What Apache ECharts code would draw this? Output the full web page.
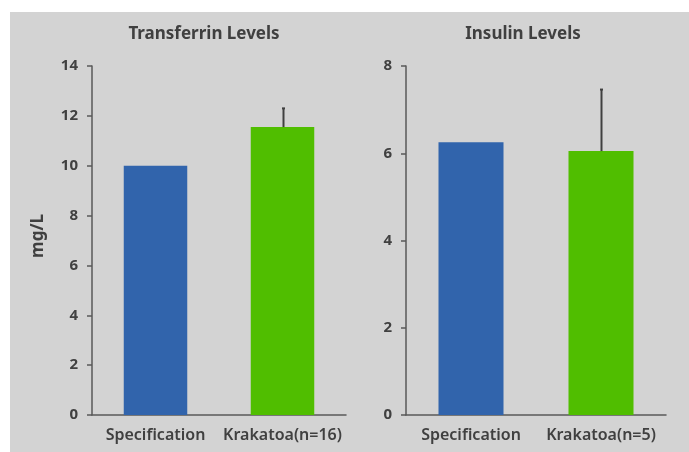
<!DOCTYPE html>
<html>
<head>
<meta charset="utf-8">
<script src="https://cdn.jsdelivr.net/npm/echarts@6/dist/echarts.min.js"></script>
<style>html,body{margin:0;padding:0;background:#fff;}#c{width:689px;height:452px;}</style>
</head>
<body>
<div id="c"></div>
<script>
const categoriesTransferrin = ['Specification', 'Krakatoa(n=16)'];
const valuesTransferrin = [10.0, 11.55];
const errorTransferrin = [null, 0.75];
const categoriesInsulin = ['Specification', 'Krakatoa(n=5)'];
const valuesInsulin = [6.25, 6.05];
const errorInsulin = [null, 1.41];
const titles = ['Transferrin Levels', 'Insulin Levels'];
const yAxisName = 'mg/L';
const barColors = ['#3164ac', '#50be00'];

const FONT = '"Noto Sans", sans-serif';
const TXT = '#404040';
const AX = '#595959';

function barData(vals) {
  return vals.map((v, i) => ({ value: v, itemStyle: { color: barColors[i] } }));
}
function errData(vals, errs) {
  const out = [];
  vals.forEach((v, i) => { if (errs[i] != null) out.push([i, v, v + errs[i]]); });
  return out;
}
function errSeries(idx, vals, errs) {
  return {
    type: 'custom', xAxisIndex: idx, yAxisIndex: idx, silent: true, z: 5,
    data: errData(vals, errs),
    renderItem: function (params, api) {
      const x = api.coord([api.value(0), api.value(1)]);
      const top = api.coord([api.value(0), api.value(2)]);
      const cx = Math.round(x[0]) + 0.5;
      return {
        type: 'group',
        children: [
          { type: 'line', shape: { x1: cx, y1: x[1], x2: cx, y2: top[1] }, style: { stroke: TXT, lineWidth: 2 } },
          { type: 'line', shape: { x1: cx - 1.5, y1: top[1], x2: cx + 1.5, y2: top[1] }, style: { stroke: TXT, lineWidth: 2 } }
        ]
      };
    }
  };
}
function yAxisCfg(idx, max, interval) {
  return {
    type: 'value', gridIndex: idx, min: 0, max: max, interval: interval,
    axisLine: { show: true, lineStyle: { color: AX, width: 1.5 } },
    axisTick: { show: true, length: 5, lineStyle: { color: AX, width: 1.5 } },
    splitLine: { show: false },
    axisLabel: { color: TXT, fontFamily: FONT, fontSize: 15, fontWeight: 'bold', margin: 14 }
  };
}
function xAxisCfg(idx, cats) {
  return {
    type: 'category', gridIndex: idx, data: cats,
    axisLine: { show: true, lineStyle: { color: AX, width: 1.5 } },
    axisTick: { show: false },
    axisLabel: { color: TXT, fontFamily: FONT, fontSize: 16, fontWeight: 600, margin: 12, interval: 0 }
  };
}

const chart = echarts.init(document.getElementById('c'), null, { renderer: 'canvas' });
chart.setOption({
  backgroundColor: '#ffffff',
  animation: false,
  graphic: [
    { type: 'rect', z: -10, shape: { x: 10, y: 12, width: 679, height: 440 }, style: { fill: '#d3d3d3' } },
    { type: 'text', x: 38, y: 236, rotation: Math.PI / 2, z: 10,
      style: { text: yAxisName, fill: TXT, font: 'bold 17px "Noto Sans", sans-serif', textAlign: 'center', textVerticalAlign: 'middle' } }
  ],
  title: [
    { text: titles[0], left: 199, top: 21, textAlign: 'center',
      textStyle: { color: TXT, fontFamily: FONT, fontSize: 17, fontWeight: 'bold' } },
    { text: titles[1], left: 518, top: 21, textAlign: 'center',
      textStyle: { color: TXT, fontFamily: FONT, fontSize: 17, fontWeight: 'bold' } }
  ],
  grid: [
    { left: 92, right: 343, top: 66, bottom: 37 },
    { left: 406, right: 23, top: 66, bottom: 37 }
  ],
  xAxis: [xAxisCfg(0, categoriesTransferrin), xAxisCfg(1, categoriesInsulin)],
  yAxis: [yAxisCfg(0, 14, 2), yAxisCfg(1, 8, 2)],
  series: [
    { type: 'bar', xAxisIndex: 0, yAxisIndex: 0, barWidth: '50%', data: barData(valuesTransferrin) },
    errSeries(0, valuesTransferrin, errorTransferrin),
    { type: 'bar', xAxisIndex: 1, yAxisIndex: 1, barWidth: '50%', data: barData(valuesInsulin) },
    errSeries(1, valuesInsulin, errorInsulin)
  ]
});
</script>
</body>
</html>
